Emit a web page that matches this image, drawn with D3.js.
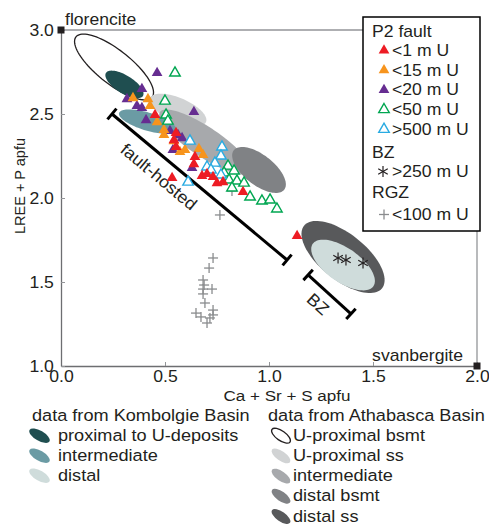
<!DOCTYPE html>
<html><head><meta charset="utf-8">
<script src="https://cdn.jsdelivr.net/npm/d3@7/dist/d3.min.js"></script>
<style>
body{margin:0;background:#fff;}
text{font-family:"Liberation Sans",Arial,Helvetica,sans-serif;fill:#231f20;}
</style></head><body>
<svg id="c" width="489" height="524"></svg>
<script>
// ---------- data ----------
const xTicks = [0.0, 0.5, 1.0, 1.5, 2.0];
const yTicks = [1.0, 1.5, 2.0, 2.5, 3.0];

const red = [[0.452,2.494],[0.553,2.387],[0.543,2.345],[0.553,2.304],[0.644,2.244],[0.639,2.202],
  [0.678,2.131],[0.702,2.143],[0.731,2.125],[0.534,2.119],[0.750,2.089],[0.779,2.095],[0.875,2.036],[1.135,1.774]];
const orange = [[0.346,2.595],[0.418,2.589],[0.428,2.548],[0.462,2.452],[0.495,2.405],[0.495,2.375],
  [0.543,2.339],[0.572,2.274],[0.596,2.286],[0.663,2.292],[0.683,2.256]];
const purple = [[0.462,2.744],[0.389,2.649],[0.317,2.589],[0.365,2.548],[0.389,2.536],[0.639,2.512],
  [0.409,2.464],[0.524,2.399],[0.5625,2.375],[0.582,2.357],[0.538,2.286],[0.630,2.179]];
const green = [[0.548,2.744],[0.500,2.577],[0.505,2.494],[0.514,2.458],[0.803,2.190],[0.832,2.161],
  [0.784,2.149],[0.808,2.107],[0.846,2.101],[0.880,2.089],[0.822,2.060],[0.909,2.006],[0.966,1.982],
  [1.005,1.988],[1.038,1.935]];
const blue = [[0.620,2.339],[0.774,2.304],[0.769,2.250],[0.740,2.208],[0.702,2.185],[0.721,2.167],
  [0.611,2.095],[0.769,2.137]];
const bz = [[1.332,1.643],[1.370,1.631],[1.452,1.613]];
const rgz = [[0.764,1.899],[0.822,2.042],[0.731,1.643],[0.712,1.583],[0.683,1.512],[0.688,1.482],
  [0.726,1.458],[0.683,1.458],[0.683,1.429],[0.692,1.375],[0.731,1.333],[0.649,1.315],[0.731,1.304],
  [0.673,1.292],[0.716,1.286],[0.702,1.256]];

// fields: centre, first half-axis vector, second half-axis vector (data units)
const regionNames   = ["athaUproxBsmt","athaUproxSs","athaInter","athaDistalBsmt","athaDistalSs","kombDistal","kombInter","kombProx"];
const regionCentres = [[0.255,2.780],[0.5625,2.524],[0.692,2.333],[0.952,2.167],[1.356,1.649],[1.356,1.601],[0.416,2.455],[0.305,2.676]];
const regionAxisA   = [[0.183,-0.179],[0.1346,-0.0714],[0.2163,-0.1786],[0.1212,-0.1173],[0.1875,-0.186],[0.1457,-0.1262],[0.137,-0.0506],[0.0889,-0.0685]];
const regionAxisB   = [[-0.0505,-0.079],[-0.0227,-0.0657],[-0.040,-0.0743],[-0.0444,-0.0704],[-0.0691,-0.1068],[-0.0469,-0.0829],[-0.0124,-0.0513],[-0.0228,-0.0455]];

const faultBar = [[0.245,2.500],[1.087,1.631]];
const bzBar    = [[1.188,1.542],[1.394,1.310]];
const endMembers = [{name:"florencite", x:0, y:3}, {name:"svanbergite", x:2, y:1}];

const p2Labels = ["<1 m U","<15 m U","<20 m U","<50 m U",">500 m U"];
const kombLabels = ["proximal to U-deposits","intermediate","distal"];
const athaLabels = ["U-proximal bsmt","U-proximal ss","intermediate","distal bsmt","distal ss"];

// ---------- styles ----------
const regionFill = {athaUproxBsmt:"none", athaUproxSs:"#d1d3d4", athaInter:"#a7a9ac", athaDistalBsmt:"#808285",
  athaDistalSs:"#58595b", kombDistal:"#cfdcdb", kombInter:"#6b9ba4", kombProx:"#1f4e50"};
const C = {red:"#ed1c24", orange:"#f7941d", purple:"#662d91", green:"#00a651", blue:"#29abe2", gray:"#8a8c8e"};

const svg = d3.select("#c");
const x = d3.scaleLinear().domain([0,2]).range([61,477]);
const y = d3.scaleLinear().domain([1,3]).range([366,30]);
const SX = 1.1;

function txt(sel, s, px, py, o = {}) {
  const g = sel.append("g").attr("transform", `translate(${px},${py}) rotate(${o.rot||0}) scale(${o.sx||SX},1)`);
  return g.append("text").attr("font-size", o.size||16).attr("text-anchor", o.anchor||"start")
    .attr("dominant-baseline", o.base||"auto").text(s);
}

// ---------- regions ----------
function ellipsePts(c, a, b) {
  const pts = [];
  for (let i = 0; i < 90; i++) {
    const t = i / 90 * 2 * Math.PI;
    pts.push([c[0] + a[0]*Math.cos(t) + b[0]*Math.sin(t), c[1] + a[1]*Math.cos(t) + b[1]*Math.sin(t)]);
  }
  return pts;
}
const closedLine = d3.line().x(d => x(d[0])).y(d => y(d[1])).curve(d3.curveLinearClosed);
const gReg = svg.append("g");
regionNames.forEach((n, i) => {
  const f = regionFill[n];
  gReg.append("path").attr("d", closedLine(ellipsePts(regionCentres[i], regionAxisA[i], regionAxisB[i])))
    .attr("fill", f === "none" ? "none" : f)
    .attr("stroke", f === "none" ? "#231f20" : "none").attr("stroke-width", 1.3);
});

// ---------- axes / frame ----------
const xAxis = d3.axisBottom(x).tickValues(xTicks).tickFormat(d3.format(".1f")).tickSizeInner(-4).tickSizeOuter(0).tickPadding(5);
const gx = svg.append("g").attr("transform", `translate(0,${y(1)})`).call(xAxis);
gx.select(".domain").attr("stroke", "#6d6e71").attr("stroke-width", 1.3);
gx.selectAll(".tick line").attr("stroke", "#939598");
gx.selectAll(".tick text").attr("font-size", 16).attr("fill", "#231f20").attr("transform", `scale(${SX},1)`)
  .style("font-family", '"Liberation Sans",Arial,sans-serif');

const yAxis = d3.axisLeft(y).tickValues(yTicks).tickFormat(d3.format(".1f")).tickSizeInner(-4).tickSizeOuter(0).tickPadding(8);
const gy = svg.append("g").attr("transform", `translate(${x(0)},0)`).call(yAxis);
gy.select(".domain").attr("stroke", "#6d6e71").attr("stroke-width", 1.3);
gy.selectAll(".tick line").attr("stroke", "#939598");
gy.selectAll(".tick text").attr("font-size", 16).attr("fill", "#231f20").attr("x", -6.5).attr("transform", `scale(${SX},1)`)
  .style("font-family", '"Liberation Sans",Arial,sans-serif');

// legend box geometry
const LB = {x:363, y:17, w:117, h:214};
svg.append("line").attr("x1", x(0)).attr("x2", LB.x).attr("y1", y(3)).attr("y2", y(3)).attr("stroke", "#939598").attr("stroke-width", 1.3);
svg.append("line").attr("x1", x(2)).attr("x2", x(2)).attr("y1", LB.y + LB.h).attr("y2", y(1)).attr("stroke", "#939598").attr("stroke-width", 1.3);

endMembers.forEach(e => {
  svg.append("rect").attr("x", x(e.x) - 3.5).attr("y", y(e.y) - 3.5).attr("width", 7).attr("height", 7).attr("fill", "#231f20");
});
txt(svg, "florencite", x(0) + 4, y(3) - 5, {size:16});
txt(svg, "svanbergite", x(2) - 14, y(1) - 5, {size:16, anchor:"end"});

// axis titles
txt(svg, "Ca + Sr + S apfu", 287, 401, {size:15.5, anchor:"middle"});
svg.append("text").attr("transform", `translate(25,${186}) rotate(-90)`).attr("font-size", 14.5)
  .attr("text-anchor", "middle").text("LREE + P apfu");

// ---------- bars ----------
function bar(pts) {
  const p0 = [x(pts[0][0]), y(pts[0][1])], p1 = [x(pts[1][0]), y(pts[1][1])];
  const dx = p1[0]-p0[0], dy = p1[1]-p0[1], L = Math.hypot(dx, dy);
  const nx = -dy/L*7, ny = dx/L*7;
  const g = svg.append("g").attr("stroke", "#000").attr("stroke-width", 3).attr("stroke-linecap", "butt");
  g.append("line").attr("x1", p0[0]).attr("y1", p0[1]).attr("x2", p1[0]).attr("y2", p1[1]);
  [p0, p1].forEach(p => g.append("line").attr("x1", p[0]-nx).attr("y1", p[1]-ny).attr("x2", p[0]+nx).attr("y2", p[1]+ny));
  return Math.atan2(dy, dx) * 180 / Math.PI;
}
const aF = bar(faultBar);
const aB = bar(bzBar);
txt(svg, "fault-hosted", x(0.466), y(2.12), {size:17, anchor:"middle", base:"middle", rot:aF, sx:1.05});
txt(svg, "BZ", x(1.231), y(1.363), {size:17, anchor:"middle", base:"middle", rot:aB, sx:1.05});

// ---------- points ----------
const tri = d3.symbol().type(d3.symbolTriangle).size(50);
const triO = d3.symbol().type(d3.symbolTriangle).size(48);
function filled(data, col) {
  svg.append("g").selectAll("path").data(data).join("path")
    .attr("transform", d => `translate(${x(d[0])},${y(d[1])})`).attr("d", tri).attr("fill", col);
}
function open(data, col) {
  svg.append("g").selectAll("path").data(data).join("path")
    .attr("transform", d => `translate(${x(d[0])},${y(d[1])})`).attr("d", triO)
    .attr("fill", "#fff").attr("stroke", col).attr("stroke-width", 1.4);
}
function plus(sel, px, py) {
  const g = sel.append("g").attr("stroke", C.gray).attr("stroke-width", 1.3);
  g.append("line").attr("x1", px-5).attr("x2", px+5).attr("y1", py).attr("y2", py);
  g.append("line").attr("x1", px).attr("x2", px).attr("y1", py-5).attr("y2", py+5);
}
function aster(sel, px, py) {
  const g = sel.append("g").attr("stroke", "#231f20").attr("stroke-width", 1.2);
  [90, 30, 150].forEach(a => {
    const r = a*Math.PI/180, dx = Math.cos(r)*5.5, dy = Math.sin(r)*5.5;
    g.append("line").attr("x1", px-dx).attr("x2", px+dx).attr("y1", py-dy).attr("y2", py+dy);
  });
}
rgz.forEach(d => plus(svg, x(d[0]), y(d[1])));
filled(purple, C.purple);
filled(orange, C.orange);
open(green, C.green);
open(blue, C.blue);
filled(red, C.red);
bz.forEach(d => aster(svg, x(d[0]), y(d[1])));

// ---------- legend box ----------
const lg = svg.append("g");
lg.append("rect").attr("x", LB.x).attr("y", LB.y).attr("width", LB.w).attr("height", LB.h)
  .attr("fill", "#fff").attr("stroke", "#000").attr("stroke-width", 1.5);
txt(lg, "P2 fault", 372, 37, {size:16});
const symCols = [C.red, C.orange, C.purple, C.green, C.blue];
p2Labels.forEach((l, i) => {
  const by = 56 + i*19.7;
  const p = lg.append("path").attr("transform", `translate(384,${by-5.5})`);
  if (i < 3) p.attr("d", tri).attr("fill", symCols[i]);
  else p.attr("d", triO).attr("fill", "#fff").attr("stroke", symCols[i]).attr("stroke-width", 1.4);
  txt(lg, l, 392, by, {size:16});
});
txt(lg, "BZ", 372, 158, {size:16});
aster(lg, 383, 171.5);
txt(lg, ">250 m U", 392, 177, {size:16});
txt(lg, "RGZ", 372, 198, {size:16});
plus(lg, 384, 214.5);
txt(lg, "<100 m U", 392, 220, {size:16});

// ---------- bottom legend ----------
const bl = svg.append("g");
txt(bl, "data from Kombolgie Basin", 32, 420.5, {size:16.5});
txt(bl, "data from Athabasca Basin", 268, 420.5, {size:16.5});
const kombKeys = ["kombProx","kombInter","kombDistal"];
const athaKeys = ["athaUproxBsmt","athaUproxSs","athaInter","athaDistalBsmt","athaDistalSs"];
kombLabels.forEach((l, i) => {
  const by = 440.7 + i*20;
  bl.append("ellipse").attr("transform", `translate(39.5,${by-5}) rotate(30)`).attr("rx", 11.5).attr("ry", 5)
    .attr("fill", regionFill[kombKeys[i]]);
  txt(bl, l, 58, by, {size:16.5});
});
athaLabels.forEach((l, i) => {
  const by = 440.7 + i*20.2;
  const f = regionFill[athaKeys[i]];
  bl.append("ellipse").attr("transform", `translate(281,${by-5}) rotate(35)`).attr("rx", 11).attr("ry", 4.8)
    .attr("fill", f === "none" ? "none" : f).attr("stroke", f === "none" ? "#231f20" : "none").attr("stroke-width", 1.3);
  txt(bl, l, 293, by, {size:16.5});
});
</script>
</body></html>
